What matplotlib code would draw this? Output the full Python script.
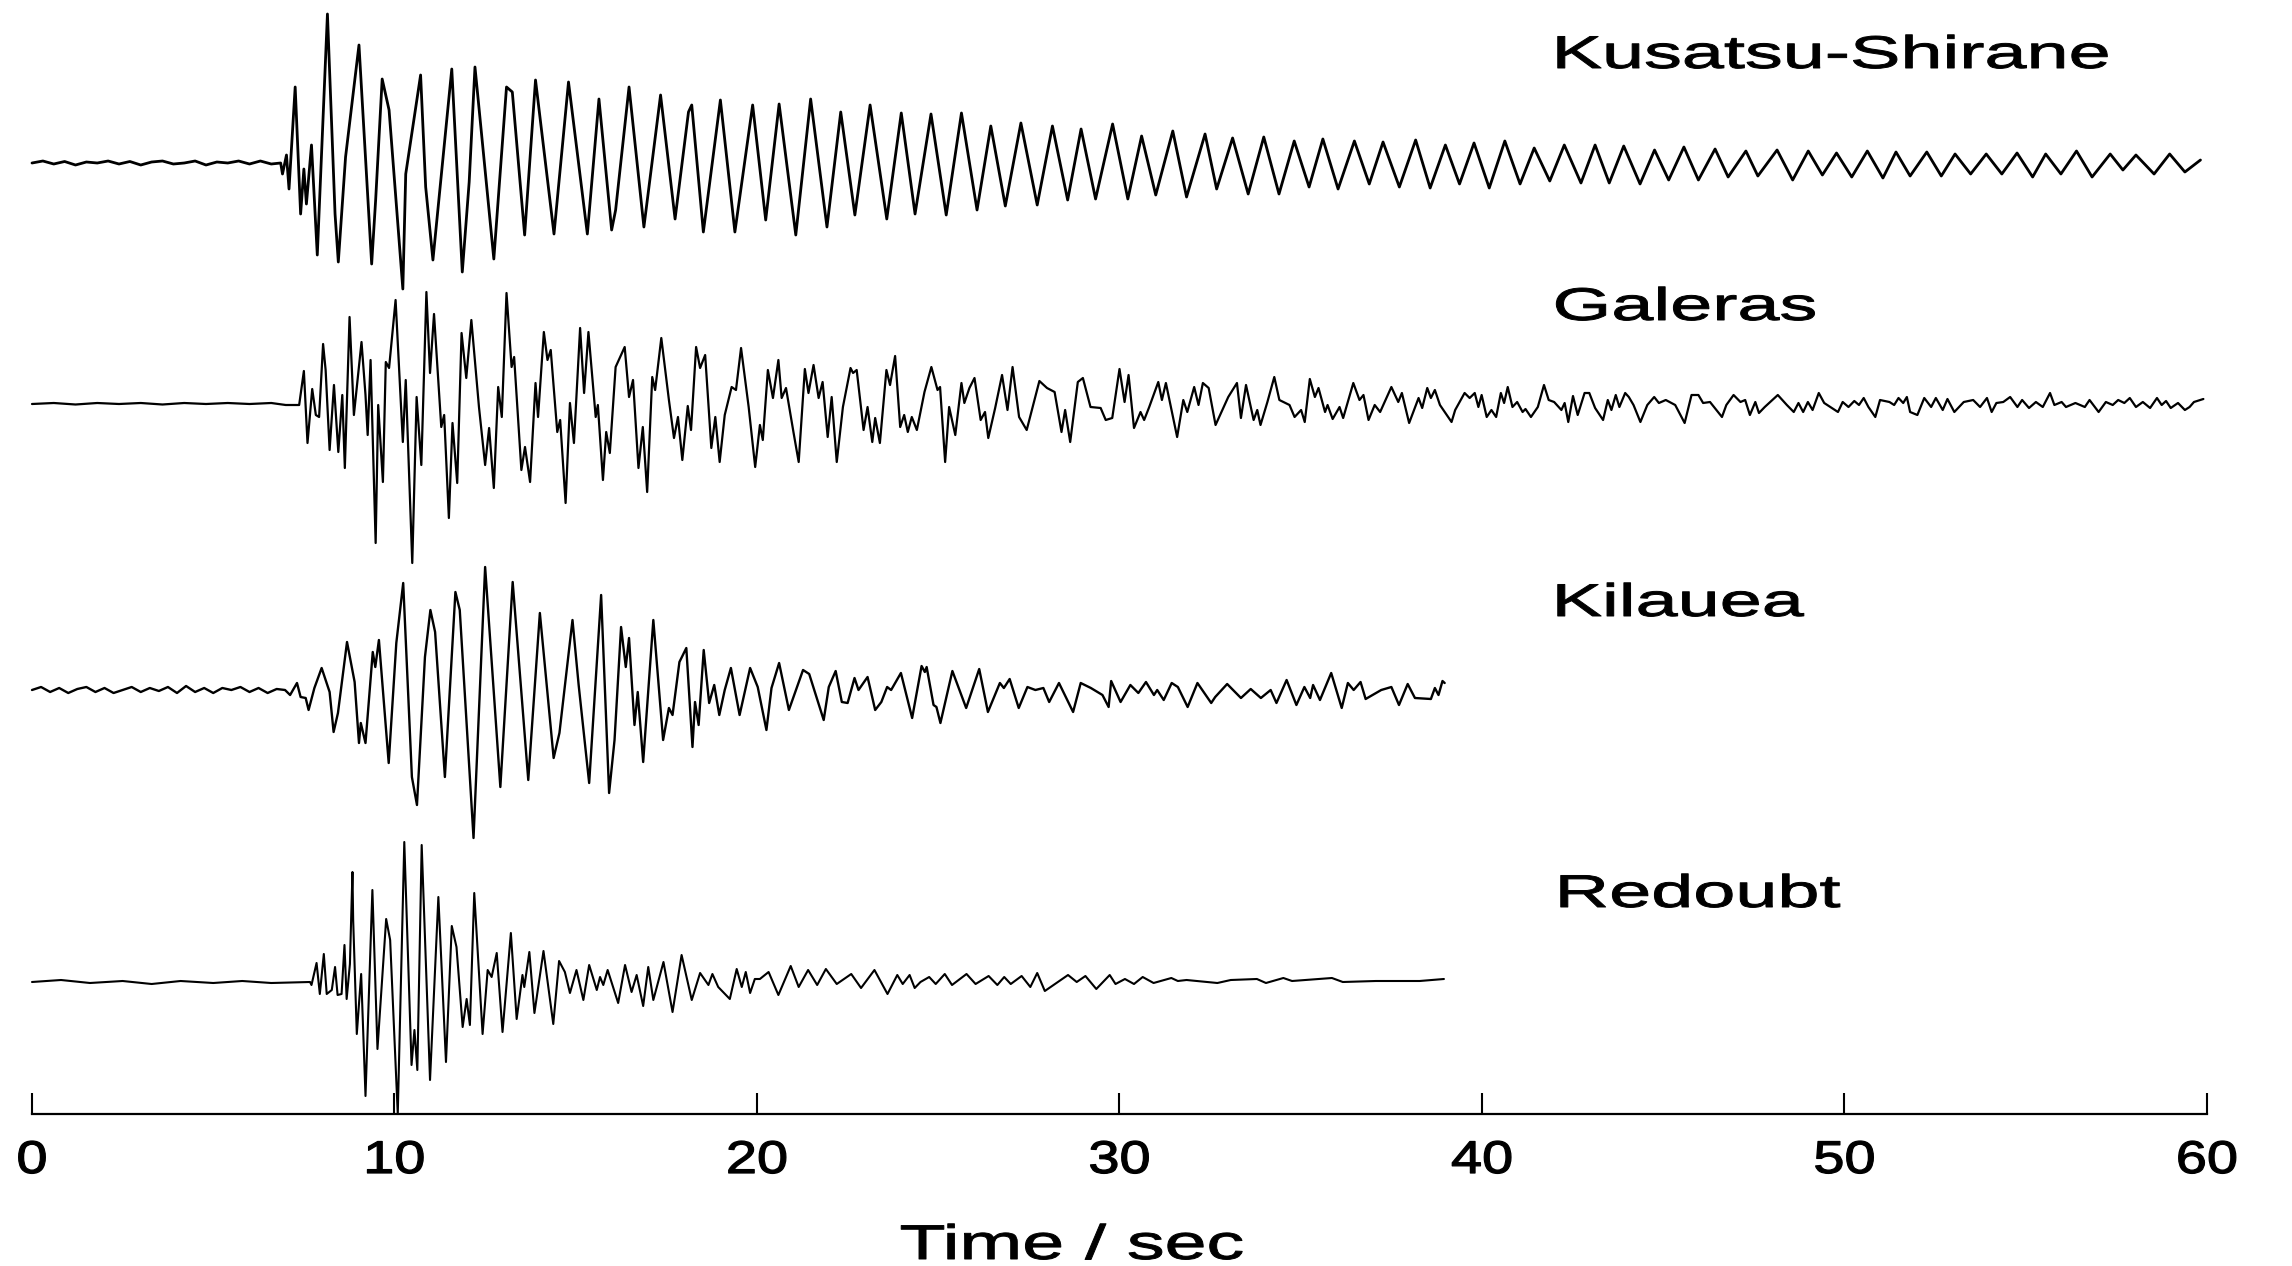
import numpy as np
import matplotlib
matplotlib.use("Agg")
import matplotlib.pyplot as plt
from matplotlib.patheffects import AbstractPathEffect
from matplotlib.transforms import Affine2D
from matplotlib.path import Path

plt.rcParams['font.family'] = ['Liberation Sans', 'DejaVu Sans']

# ---------------------------------------------------------------------------
# Seismograms: (time [s], relative amplitude) samples at the wave extrema
# ---------------------------------------------------------------------------
kusatsu_trace = [
    (0.0, 0.0), (0.3, 0.02), (0.6, -0.01), (0.9, 0.015), (1.2, -0.02), (1.5, 0.01),
    (1.8, 0.0), (2.1, 0.02), (2.4, -0.01), (2.7, 0.015), (3.0, -0.02), (3.3, 0.01),
    (3.6, 0.02), (3.9, -0.01), (4.2, 0.0), (4.5, 0.02), (4.8, -0.02), (5.1, 0.01),
    (5.4, 0.0), (5.7, 0.02), (6.0, -0.01), (6.3, 0.02), (6.6, -0.01), (6.86, 0.0),
    (6.91, -0.11), (7.02, 0.08), (7.09, -0.26), (7.26, 0.76), (7.41, -0.51),
    (7.50, -0.06), (7.57, -0.41), (7.71, 0.18), (7.87, -0.92), (8.15, 1.49),
    (8.36, -0.51), (8.45, -0.99), (8.65, 0.06), (9.02, 1.18), (9.37, -1.01),
    (9.48, -0.37), (9.66, 0.84), (9.85, 0.53), (10.23, -1.26), (10.31, -0.11),
    (10.72, 0.88), (10.86, -0.24), (11.06, -0.97), (11.58, 0.94), (11.87, -1.09),
    (12.06, -0.19), (12.22, 0.96), (12.74, -0.96), (13.09, 0.76), (13.25, 0.71),
    (13.59, -0.72), (13.89, 0.83), (14.40, -0.71), (14.80, 0.81), (15.32, -0.71),
    (15.64, 0.64), (15.99, -0.67), (16.10, -0.47), (16.47, 0.76), (16.88, -0.64),
    (17.34, 0.68), (17.74, -0.56), (18.11, 0.51), (18.20, 0.58), (18.52, -0.69),
    (18.99, 0.63), (19.39, -0.69), (19.88, 0.58), (20.24, -0.57), (20.61, 0.59),
    (21.07, -0.72), (21.48, 0.64), (21.93, -0.64), (22.31, 0.51), (22.70, -0.52),
    (23.12, 0.58), (23.58, -0.56), (23.98, 0.50), (24.36, -0.51), (24.80, 0.49),
    (25.22, -0.52), (25.64, 0.50), (26.07, -0.47), (26.45, 0.37), (26.85, -0.43),
    (27.28, 0.40), (27.73, -0.42), (28.15, 0.37), (28.57, -0.37), (28.94, 0.34),
    (29.34, -0.36), (29.81, 0.39), (30.23, -0.36), (30.61, 0.27), (31.00, -0.32),
    (31.47, 0.32), (31.85, -0.34), (32.36, 0.29), (32.68, -0.26), (33.12, 0.25),
    (33.55, -0.31), (33.98, 0.26), (34.40, -0.31), (34.82, 0.22), (35.23, -0.24),
    (35.61, 0.24), (36.03, -0.26), (36.48, 0.22), (36.89, -0.21), (37.27, 0.21),
    (37.72, -0.24), (38.17, 0.23), (38.57, -0.25), (38.99, 0.18), (39.38, -0.21),
    (39.78, 0.20), (40.20, -0.25), (40.63, 0.22), (41.05, -0.21), (41.44, 0.15),
    (41.87, -0.18), (42.27, 0.18), (42.73, -0.20), (43.12, 0.18), (43.51, -0.20),
    (43.91, 0.17), (44.36, -0.21), (44.76, 0.13), (45.15, -0.17), (45.57, 0.16),
    (45.97, -0.17), (46.43, 0.14), (46.79, -0.14), (47.28, 0.12), (47.61, -0.13),
    (48.14, 0.13), (48.57, -0.17), (49.00, 0.12), (49.39, -0.12), (49.78, 0.10),
    (50.20, -0.14), (50.63, 0.12), (51.06, -0.15), (51.42, 0.11), (51.81, -0.13),
    (52.27, 0.11), (52.67, -0.13), (53.05, 0.09), (53.48, -0.11), (53.91, 0.09),
    (54.34, -0.11), (54.76, 0.10), (55.19, -0.14), (55.55, 0.09), (55.97, -0.11),
    (56.40, 0.12), (56.83, -0.14), (57.33, 0.09), (57.68, -0.07), (58.04, 0.08),
    (58.54, -0.11), (58.97, 0.09), (59.39, -0.09), (59.82, 0.03),
]

galeras_trace = [
    (0.0, 0.0), (0.6, 0.01), (1.2, -0.005), (1.8, 0.01), (2.4, 0.0), (3.0, 0.01),
    (3.6, -0.005), (4.2, 0.01), (4.8, 0.0), (5.4, 0.01), (6.0, 0.0), (6.6, 0.01),
    (7.0, -0.01), (7.37, -0.01),
    (7.50, 0.33), (7.60, -0.39), (7.73, 0.15), (7.83, -0.11), (7.92, -0.13),
    (8.03, 0.60), (8.10, 0.34), (8.21, -0.46), (8.33, 0.19), (8.45, -0.48),
    (8.56, 0.09), (8.63, -0.64), (8.76, 0.87), (8.88, -0.11), (9.09, 0.62),
    (9.20, 0.09), (9.26, -0.31), (9.34, 0.44), (9.48, -1.39), (9.55, -0.01),
    (9.68, -0.78), (9.76, 0.42), (9.85, 0.36), (10.03, 1.04), (10.23, -0.38),
    (10.31, 0.24), (10.49, -1.59), (10.61, 0.07), (10.74, -0.61), (10.88, 1.12),
    (10.98, 0.31), (11.09, 0.90), (11.29, -0.23), (11.37, -0.11), (11.50, -1.14),
    (11.60, -0.19), (11.73, -0.79), (11.85, 0.71), (11.98, 0.26), (12.12, 0.84),
    (12.33, -0.03), (12.50, -0.61), (12.61, -0.24), (12.74, -0.84), (12.86, 0.17),
    (12.96, -0.13), (13.09, 1.11), (13.23, 0.37), (13.30, 0.47), (13.50, -0.66),
    (13.60, -0.43), (13.74, -0.78), (13.89, 0.21), (13.96, -0.13), (14.12, 0.72),
    (14.22, 0.44), (14.31, 0.54), (14.49, -0.28), (14.57, -0.16), (14.72, -0.99),
    (14.84, 0.01), (14.95, -0.39), (15.12, 0.76), (15.23, 0.11), (15.35, 0.72),
    (15.55, -0.13), (15.61, -0.01), (15.75, -0.76), (15.84, -0.28), (15.94, -0.49),
    (16.10, 0.37), (16.35, 0.57), (16.47, 0.07), (16.58, 0.24), (16.73, -0.64),
    (16.85, -0.23), (16.97, -0.88), (17.11, 0.27), (17.19, 0.14), (17.36, 0.66),
    (17.57, 0.04), (17.71, -0.34), (17.82, -0.13), (17.94, -0.56), (18.09, -0.02),
    (18.18, -0.26), (18.32, 0.57), (18.43, 0.36), (18.57, 0.49), (18.74, -0.44),
    (18.85, -0.13), (18.97, -0.58), (19.11, -0.11), (19.30, 0.17), (19.42, 0.14),
    (19.56, 0.56), (19.77, -0.03), (19.95, -0.63), (20.08, -0.21), (20.16, -0.36),
    (20.30, 0.34), (20.44, 0.06), (20.59, 0.44), (20.68, 0.06), (20.80, 0.16),
    (21.01, -0.29), (21.15, -0.58), (21.32, 0.35), (21.42, 0.11), (21.56, 0.39),
    (21.70, 0.06), (21.81, 0.22), (21.95, -0.33), (22.06, 0.07), (22.20, -0.58),
    (22.37, -0.03), (22.58, 0.36), (22.65, 0.31), (22.75, 0.34), (22.94, -0.26),
    (23.05, -0.03), (23.18, -0.38), (23.26, -0.14), (23.39, -0.39), (23.57, 0.34),
    (23.67, 0.19), (23.81, 0.48), (23.95, -0.23), (24.06, -0.11), (24.16, -0.28),
    (24.27, -0.13), (24.41, -0.26), (24.62, 0.12), (24.81, 0.37), (24.98, 0.14),
    (25.05, 0.17), (25.19, -0.58), (25.30, -0.03), (25.47, -0.31), (25.64, 0.21),
    (25.72, 0.01), (25.86, 0.16), (26.00, 0.26), (26.17, -0.16), (26.29, -0.08),
    (26.38, -0.34), (26.57, -0.04), (26.76, 0.29), (26.91, -0.06), (27.05, 0.37),
    (27.23, -0.13), (27.44, -0.26), (27.79, 0.23), (28.00, 0.16), (28.21, 0.12),
    (28.40, -0.28), (28.50, -0.06), (28.64, -0.38), (28.85, 0.22), (28.99, 0.26),
    (29.20, -0.03), (29.48, -0.04), (29.62, -0.16), (29.80, -0.14), (30.00, 0.35),
    (30.14, 0.02), (30.25, 0.29), (30.40, -0.24), (30.58, -0.08), (30.68, -0.16),
    (30.82, -0.03), (31.07, 0.22), (31.17, 0.04), (31.28, 0.21), (31.59, -0.33),
    (31.76, 0.04), (31.87, -0.08), (32.06, 0.17), (32.18, -0.01), (32.30, 0.21),
    (32.46, 0.16), (32.65, -0.21), (33.00, 0.07), (33.24, 0.21), (33.35, -0.14),
    (33.49, 0.19), (33.70, -0.16), (33.80, -0.06), (33.89, -0.21), (34.08, 0.02),
    (34.27, 0.27), (34.41, 0.04), (34.69, -0.01), (34.83, -0.13), (35.01, -0.06),
    (35.11, -0.18), (35.25, 0.25), (35.39, 0.07), (35.49, 0.16), (35.67, -0.08),
    (35.74, -0.01), (35.88, -0.15), (36.07, -0.03), (36.17, -0.14), (36.45, 0.21),
    (36.62, 0.04), (36.73, 0.09), (36.87, -0.16), (37.04, -0.01), (37.19, -0.08),
    (37.50, 0.17), (37.69, 0.02), (37.79, 0.11), (37.99, -0.19), (38.25, 0.06),
    (38.35, -0.04), (38.49, 0.16), (38.59, 0.06), (38.70, 0.14), (38.84, -0.01),
    (39.16, -0.18), (39.26, -0.06), (39.52, 0.11), (39.66, 0.06), (39.80, 0.11),
    (39.90, -0.03), (39.99, 0.09), (40.13, -0.13), (40.26, -0.06), (40.39, -0.13),
    (40.52, 0.11), (40.61, 0.01), (40.71, 0.17), (40.84, -0.03), (40.97, 0.02),
    (41.12, -0.08), (41.20, -0.05), (41.35, -0.13), (41.54, -0.03), (41.71, 0.19),
    (41.84, 0.04), (41.99, 0.02), (42.19, -0.06), (42.28, 0.01), (42.38, -0.18),
    (42.51, 0.08), (42.64, -0.11), (42.83, 0.11), (42.96, 0.11), (43.12, -0.04),
    (43.34, -0.16), (43.47, 0.04), (43.57, -0.06), (43.69, 0.09), (43.79, -0.03),
    (43.95, 0.11), (44.05, 0.07), (44.18, -0.01), (44.37, -0.18), (44.56, -0.01),
    (44.75, 0.07), (44.88, 0.01), (45.07, 0.04), (45.33, -0.01), (45.59, -0.19),
    (45.78, 0.09), (45.97, 0.09), (46.10, 0.01), (46.29, 0.02), (46.62, -0.13),
    (46.74, -0.01), (46.94, 0.09), (47.13, 0.02), (47.26, 0.04), (47.39, -0.11),
    (47.54, 0.02), (47.64, -0.09), (47.80, -0.03), (48.16, 0.09), (48.41, -0.01),
    (48.60, -0.08), (48.73, 0.01), (48.86, -0.08), (48.99, 0.02), (49.12, -0.06),
    (49.29, 0.11), (49.44, 0.01), (49.82, -0.08), (49.95, 0.02), (50.11, -0.03),
    (50.27, 0.03), (50.40, -0.01), (50.53, 0.06), (50.66, -0.03), (50.85, -0.13),
    (50.98, 0.04), (51.24, 0.02), (51.37, -0.01), (51.49, 0.06), (51.62, 0.01),
    (51.72, 0.07), (51.81, -0.08), (52.01, -0.11), (52.20, 0.06), (52.39, -0.03),
    (52.52, 0.06), (52.71, -0.06), (52.84, 0.05), (53.03, -0.08), (53.29, 0.02),
    (53.55, 0.04), (53.74, -0.03), (53.93, 0.06), (54.06, -0.08), (54.19, 0.01),
    (54.38, 0.02), (54.57, 0.07), (54.77, -0.03), (54.90, 0.04), (55.09, -0.04),
    (55.28, 0.02), (55.47, -0.03), (55.67, 0.11), (55.79, -0.01), (55.99, 0.02),
    (56.11, -0.03), (56.37, 0.01), (56.63, -0.03), (56.76, 0.04), (57.01, -0.08),
    (57.21, 0.02), (57.40, -0.01), (57.55, 0.04), (57.72, 0.01), (57.87, 0.06),
    (58.04, -0.03), (58.23, 0.02), (58.43, -0.04), (58.62, 0.06), (58.75, -0.01),
    (58.87, 0.03), (59.00, -0.04), (59.20, 0.01), (59.39, -0.06), (59.52, -0.03),
    (59.64, 0.02), (59.90, 0.05),
]

kilauea_trace = [
    (0.0, 0.0), (0.25, 0.03), (0.5, -0.02), (0.75, 0.02), (1.0, -0.03), (1.25, 0.01),
    (1.5, 0.03), (1.75, -0.02), (2.0, 0.02), (2.25, -0.03), (2.5, 0.0), (2.75, 0.03),
    (3.0, -0.02), (3.25, 0.02), (3.5, -0.01), (3.75, 0.03), (4.0, -0.03), (4.25, 0.04),
    (4.5, -0.02), (4.75, 0.02), (5.0, -0.03), (5.25, 0.02), (5.5, 0.0), (5.75, 0.03),
    (6.0, -0.02), (6.25, 0.02), (6.5, -0.03), (6.75, 0.01), (6.98, 0.0),
    (7.12, -0.05), (7.31, 0.07), (7.41, -0.07), (7.55, -0.08), (7.63, -0.20),
    (7.79, 0.02), (7.99, 0.22), (8.21, -0.02), (8.32, -0.42), (8.44, -0.23),
    (8.69, 0.48), (8.90, 0.08), (9.02, -0.53), (9.07, -0.33), (9.20, -0.53),
    (9.40, 0.38), (9.47, 0.23), (9.57, 0.50), (9.84, -0.73), (10.05, 0.47),
    (10.24, 1.07), (10.48, -0.87), (10.62, -1.15), (10.84, 0.33), (10.99, 0.80),
    (11.12, 0.58), (11.39, -0.87), (11.68, 0.98), (11.80, 0.80), (12.18, -1.48),
    (12.50, 1.23), (12.92, -0.97), (13.26, 1.08), (13.69, -0.90), (14.01, 0.77),
    (14.39, -0.68), (14.55, -0.43), (14.91, 0.70), (15.08, 0.05), (15.37, -0.93),
    (15.70, 0.95), (15.92, -1.03), (16.07, -0.50), (16.25, 0.63), (16.38, 0.23),
    (16.47, 0.52), (16.62, -0.35), (16.71, -0.02), (16.86, -0.72), (17.14, 0.70),
    (17.41, -0.50), (17.57, -0.18), (17.67, -0.25), (17.86, 0.28), (18.05, 0.42),
    (18.22, -0.57), (18.29, -0.12), (18.39, -0.35), (18.53, 0.40), (18.68, -0.13),
    (18.82, 0.05), (18.96, -0.25), (19.11, 0.0), (19.28, 0.22), (19.52, -0.25),
    (19.81, 0.22), (20.02, 0.03), (20.26, -0.40), (20.40, 0.02), (20.61, 0.27),
    (20.88, -0.20), (21.27, 0.20), (21.44, 0.16), (21.84, -0.30), (21.98, 0.03),
    (22.17, 0.19), (22.34, -0.12), (22.50, -0.13), (22.69, 0.12), (22.80, 0.0),
    (23.05, 0.13), (23.26, -0.20), (23.43, -0.12), (23.59, 0.03), (23.70, 0.0),
    (23.97, 0.17), (24.28, -0.28), (24.54, 0.24), (24.63, 0.18), (24.68, 0.23),
    (24.87, -0.15), (24.95, -0.17), (25.06, -0.33), (25.39, 0.19), (25.77, -0.18),
    (26.13, 0.21), (26.37, -0.22), (26.70, 0.07), (26.81, 0.02), (26.97, 0.11),
    (27.22, -0.18), (27.46, 0.03), (27.68, 0.0), (27.90, 0.02), (28.06, -0.12),
    (28.33, 0.07), (28.72, -0.22), (28.93, 0.07), (29.21, 0.02), (29.53, -0.05),
    (29.70, -0.17), (29.77, 0.09), (30.03, -0.12), (30.30, 0.05), (30.52, -0.03),
    (30.73, 0.08), (30.95, -0.05), (31.04, 0.0), (31.22, -0.10), (31.44, 0.07),
    (31.61, 0.03), (31.88, -0.17), (32.15, 0.07), (32.53, -0.13), (32.64, -0.07),
    (32.97, 0.06), (33.35, -0.08), (33.62, 0.01), (33.90, -0.08), (34.17, 0.0),
    (34.33, -0.13), (34.61, 0.10), (34.88, -0.15), (35.10, 0.03), (35.26, -0.08),
    (35.34, 0.05), (35.53, -0.10), (35.84, 0.17), (36.13, -0.18), (36.30, 0.07),
    (36.46, 0.0), (36.65, 0.08), (36.79, -0.09), (37.22, 0.0), (37.50, 0.03),
    (37.71, -0.15), (37.95, 0.06), (38.15, -0.08), (38.59, -0.09), (38.70, 0.02),
    (38.80, -0.05), (38.91, 0.09), (38.97, 0.07),
]

redoubt_trace = [
    (0.0, 0.0), (0.8, 0.02), (1.6, -0.01), (2.5, 0.01), (3.3, -0.02), (4.1, 0.01),
    (5.0, -0.01), (5.8, 0.01), (6.6, -0.01), (7.67, 0.0),
    (7.71, -0.03), (7.85, 0.19), (7.94, -0.12), (8.05, 0.28), (8.13, -0.12),
    (8.27, -0.08), (8.36, 0.15), (8.43, -0.13), (8.54, -0.12), (8.62, 0.37),
    (8.68, -0.17), (8.77, 0.18), (8.84, 1.10), (8.86, 0.62), (8.96, -0.52),
    (9.08, 0.08), (9.20, -1.14), (9.39, 0.92), (9.53, -0.67), (9.77, 0.63),
    (9.88, 0.42), (10.09, -1.32), (10.27, 1.40), (10.47, -0.83), (10.55, -0.48),
    (10.63, -0.88), (10.75, 1.37), (10.98, -0.98), (11.21, 0.85), (11.42, -0.80),
    (11.58, 0.56), (11.71, 0.35), (11.88, -0.45), (11.99, -0.17), (12.08, -0.43),
    (12.20, 0.89), (12.43, -0.52), (12.57, 0.12), (12.68, 0.05), (12.82, 0.29),
    (12.98, -0.50), (13.21, 0.49), (13.37, -0.37), (13.53, 0.07), (13.58, -0.05),
    (13.72, 0.30), (13.86, -0.31), (14.11, 0.31), (14.38, -0.42), (14.54, 0.21),
    (14.70, 0.10), (14.84, -0.11), (15.02, 0.12), (15.21, -0.18), (15.37, 0.17),
    (15.58, -0.08), (15.67, 0.05), (15.76, -0.03), (15.88, 0.12), (16.17, -0.21),
    (16.36, 0.17), (16.54, -0.10), (16.68, 0.07), (16.86, -0.24), (17.00, 0.15),
    (17.14, -0.18), (17.42, 0.20), (17.67, -0.30), (17.92, 0.27), (18.20, -0.18),
    (18.43, 0.09), (18.66, -0.03), (18.77, 0.08), (18.93, -0.05), (19.25, -0.17),
    (19.44, 0.13), (19.58, -0.05), (19.69, 0.10), (19.81, -0.11), (19.94, 0.03),
    (20.08, 0.03), (20.32, 0.10), (20.59, -0.13), (20.93, 0.16), (21.15, -0.05),
    (21.41, 0.12), (21.66, -0.03), (21.90, 0.13), (22.20, -0.02), (22.60, 0.08),
    (22.87, -0.06), (23.24, 0.12), (23.60, -0.12), (23.87, 0.07), (24.02, -0.02),
    (24.21, 0.07), (24.35, -0.06), (24.51, 0.0), (24.75, 0.05), (24.93, -0.02),
    (25.18, 0.08), (25.38, -0.03), (25.78, 0.08), (26.03, -0.02), (26.39, 0.06),
    (26.63, -0.03), (26.82, 0.05), (27.00, -0.02), (27.30, 0.06), (27.54, -0.05),
    (27.73, 0.09), (27.94, -0.09), (28.58, 0.07), (28.82, 0.0), (29.06, 0.06),
    (29.36, -0.07), (29.73, 0.07), (29.89, -0.02), (30.15, 0.03), (30.40, -0.02),
    (30.64, 0.05), (30.94, -0.01), (31.43, 0.04), (31.61, 0.01), (31.85, 0.02),
    (32.70, -0.01), (33.07, 0.02), (33.79, 0.03), (34.04, -0.01), (34.52, 0.04),
    (34.76, 0.01), (35.86, 0.04), (36.16, 0.0), (37.07, 0.01), (38.28, 0.01),
    (38.95, 0.03),
]

station_names = ["Kusatsu-Shirane", "Galeras", "Kilauea", "Redoubt"]
time_ticks = [0, 10, 20, 30, 40, 50, 60]
x_label = "Time / sec"


class HorizontalStretch(AbstractPathEffect):
    """Draw text glyphs widened horizontally about their left edge or centre,
    with an optional outline that thickens the strokes."""

    def __init__(self, sx, anchor="left", outline=0.0):
        super().__init__()
        self.sx = sx
        self.anchor = anchor
        self.outline = outline

    def draw_path(self, renderer, gc, tpath, affine, rgbFace=None):
        verts = tpath.vertices
        if tpath.codes is not None:
            verts = verts[tpath.codes != Path.CLOSEPOLY]
        if len(verts) == 0:
            return
        pts = affine.transform(verts)
        if self.anchor == "left":
            x0 = pts[:, 0].min()
        else:
            x0 = 0.5 * (pts[:, 0].min() + pts[:, 0].max())
        tr = affine + Affine2D().translate(-x0, 0).scale(self.sx, 1.0).translate(x0, 0)
        gc0 = renderer.new_gc()
        gc0.copy_properties(gc)
        if self.outline > 0 and rgbFace is not None:
            gc0.set_linewidth(self.outline)
            gc0.set_foreground(rgbFace)
            gc0.set_joinstyle("round")
        renderer.draw_path(gc0, tpath, tr, rgbFace)
        gc0.restore()


W, H = 2292, 1266
fig = plt.figure(figsize=(W / 100, H / 100), dpi=100)
ax = fig.add_axes([0, 0, 1, 1])
ax.patch.set_visible(False)

px_per_sec = 36.25
x0_px = 32
ax.set_xlim(-x0_px / px_per_sec, (W - x0_px) / px_per_sec)
ax.set_ylim(0, H / 100)

# vertical offsets of each trace (one unit = 100 px)
offsets = [11.03, 8.62, 5.76, 2.84]
traces = [kusatsu_trace, galeras_trace, kilauea_trace, redoubt_trace]
widths = [2.0, 1.6, 1.7, 1.5]

for trace, off, lw in zip(traces, offsets, widths):
    arr = np.array(trace)
    ax.plot(arr[:, 0], off + arr[:, 1], color="black", lw=lw,
            solid_joinstyle="round", solid_capstyle="round")

# station names
label_pos = [(1554, 68), (1554, 320), (1554, 616), (1557, 907)]
for name, (lx, ly) in zip(station_names, label_pos):
    ax.text(lx / W, 1 - ly / H, name, transform=ax.transAxes, fontsize=33,
            ha="left", va="baseline", color="black",
            path_effects=[HorizontalStretch(1.65, "left", outline=0.7)])

# time axis
for side in ["top", "left", "right"]:
    ax.spines[side].set_visible(False)
ax.spines["bottom"].set_position(("data", (H - 1114) / 100))
ax.spines["bottom"].set_bounds(0, 60)
ax.spines["bottom"].set_linewidth(1.6)
ax.set_yticks([])
ax.set_xticks(time_ticks)
ax.set_xticklabels([str(v) for v in time_ticks])
ax.tick_params(axis="x", direction="in", length=15, width=1.5, pad=18,
               labelsize=33, colors="black")
for lab in ax.get_xticklabels():
    lab.set_path_effects([HorizontalStretch(1.22, "center", outline=0.9)])

ax.set_xlabel(x_label, fontsize=35)
ax.xaxis.set_label_coords(1072 / W, 1 - 1224 / H)
ax.xaxis.label.set_path_effects([HorizontalStretch(1.55, "center", outline=0.7)])

fig.savefig("out.png", dpi=100, facecolor="white")
